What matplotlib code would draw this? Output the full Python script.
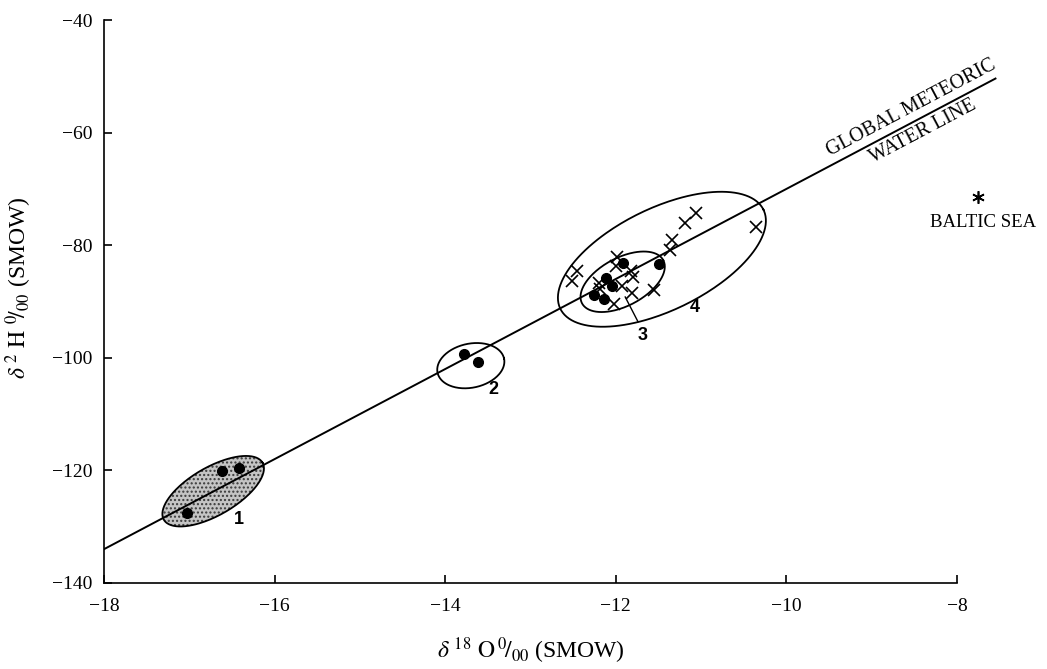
import numpy as np
import matplotlib.pyplot as plt

plt.rcParams["font.family"] = ["Liberation Serif", "DejaVu Serif"]
plt.rcParams["mathtext.fontset"] = "stix"

# 组1 (黑点, 阴影椭圆)
g1_o18 = [-16.62, -16.42, -17.03]
g1_h2 = [-120.1, -119.6, -127.6]
# 组2
g2_o18 = [-13.78, -13.61]
g2_h2 = [-99.3, -100.7]
# 组3 (黑点)
g3_o18 = [-11.92, -12.11, -12.04, -12.26, -12.14, -11.49]
g3_h2 = [-83.2, -85.8, -87.2, -88.8, -89.6, -83.3]
# 组4 (叉号)
g4_o18 = [-12.45, -12.51, -11.99, -12.00, -11.82, -11.80, -12.20, -12.18,
          -11.93, -11.81, -12.02, -11.55, -11.34, -11.36, -11.19, -11.06, -10.36]
g4_h2 = [-84.6, -86.4, -82.1, -83.7, -84.6, -85.7, -86.7, -87.8,
         -87.2, -88.5, -90.4, -88.0, -79.1, -80.9, -76.1, -74.3, -76.8]
# 波罗的海
baltic_o18 = -7.75
baltic_h2 = -71.4

# 全球大气降水线 dD = 8 d18O + 10
gmwl_slope = 8
gmwl_intercept = 10
gmwl_o18 = np.array([-18.0, -7.55])

x_ticks = [-18, -16, -14, -12, -10, -8]
y_ticks = [-140, -120, -100, -80, -60, -40]

# 椭圆: 中心 (d18O, d2H)
ell_names = ["1", "2", "3", "4"]
ell_o18 = [-16.72, -13.70, -11.92, -11.46]
ell_h2 = [-123.7, -101.4, -86.5, -82.5]
label_o18 = [-16.42, -13.43, -11.69, -11.07]
label_h2 = [-128.8, -105.7, -96.1, -91.0]


def ellipse_xy(ax, cx, cy, a, b, ang):
    # 在像素空间画椭圆, 再转回数据坐标
    c = ax.transData.transform((cx, cy))
    t = np.linspace(0, 2 * np.pi, 240)
    th = np.radians(ang)
    dx = a * np.cos(t) * np.cos(th) - b * np.sin(t) * np.sin(th)
    dy = a * np.cos(t) * np.sin(th) + b * np.sin(t) * np.cos(th)
    pts = ax.transData.inverted().transform(np.column_stack([c[0] + dx, c[1] + dy]))
    return pts[:, 0], pts[:, 1]


def plt_isotope():
    fig = plt.figure(figsize=(10.47, 6.69), dpi=100)
    ax = fig.add_axes([0.0993, 0.1286, 0.880, 0.8415])
    ax.set_xlim(-18, -7.2)
    ax.set_ylim(-140, -40)

    # 坐标轴样式
    for s in ["top", "right"]:
        ax.spines[s].set_visible(False)
    ax.spines["bottom"].set_bounds(-18, -8)
    ax.spines["left"].set_linewidth(1.2)
    ax.spines["bottom"].set_linewidth(1.2)
    ax.set_xticks(x_ticks)
    ax.set_yticks(y_ticks)
    ax.tick_params(direction="in", length=6, width=1.2, labelsize=14)
    ax.tick_params(axis="y", pad=8)
    ax.tick_params(axis="x", pad=11)

    # 大气降水线
    ax.plot(gmwl_o18, gmwl_slope * gmwl_o18 + gmwl_intercept, color="black", lw=1.4)

    # 椭圆
    sizes = [(57, 24, 30), (34, 22, 12), (46, 24, 28), (113, 51, 26)]
    for i, (a, b, ang) in enumerate(sizes):
        ex, ey = ellipse_xy(ax, ell_o18[i], ell_h2[i], a, b, ang)
        if i == 0:
            ax.fill(ex, ey, facecolor="#c4c4c4", edgecolor="#3a3a3a",
                    hatch="....", linewidth=0, zorder=1)
        ax.plot(ex, ey, color="black", lw=1.3, zorder=2)
        ax.text(label_o18[i], label_h2[i], ell_names[i], family="Liberation Sans",
                fontweight="bold", fontsize=13, ha="center", va="center")

    # 标签3的引线
    ax.plot([-11.89, -11.74], [-89.2, -93.6], color="black", lw=1.0)

    # 数据点
    ax.plot(g1_o18, g1_h2, "o", color="black", ms=7, zorder=3)
    ax.plot(g2_o18, g2_h2, "o", color="black", ms=7, zorder=3)
    ax.plot(g3_o18, g3_h2, "o", color="black", ms=7, zorder=3)
    ax.plot(g4_o18, g4_h2, "x", color="black", ms=8, mew=1.2, zorder=3)
    ax.plot([baltic_o18], [baltic_h2], marker=(6, 2, 0), color="black", ms=9, mew=1.2)
    ax.text(baltic_o18 + 0.05, baltic_h2 - 4.5, "BALTIC SEA", fontsize=13.5,
            ha="center", va="center")

    # 大气降水线文字
    p1 = ax.transData.transform((gmwl_o18[0], gmwl_slope * gmwl_o18[0] + gmwl_intercept))
    p2 = ax.transData.transform((gmwl_o18[1], gmwl_slope * gmwl_o18[1] + gmwl_intercept))
    th = np.arctan2(p2[1] - p1[1], p2[0] - p1[0])
    xt = -8.47
    for txt, d in [("GLOBAL METEORIC", 9.5), ("WATER LINE", -9.5)]:
        ax.annotate(txt, xy=(xt, gmwl_slope * xt + gmwl_intercept),
                    xytext=(-np.sin(th) * d, np.cos(th) * d), textcoords="offset points",
                    rotation=np.degrees(th), rotation_mode="anchor",
                    ha="center", va="center", fontsize=14.5)

    # 轴标题
    fig.text(0.507, 0.028, r"$\delta\ ^{18}\ \mathrm{O}\,^{0}\!/_{00}$ (SMOW)",
             fontsize=17, ha="center", va="center")
    fig.text(0.018, 0.57, r"$\delta\ ^{2}\ \mathrm{H}\ ^{0}\!/_{00}$ (SMOW)",
             fontsize=17, ha="center", va="center", rotation=90)

    plt.savefig("out.png", dpi=100)


if __name__ == "__main__":
    plt_isotope()
